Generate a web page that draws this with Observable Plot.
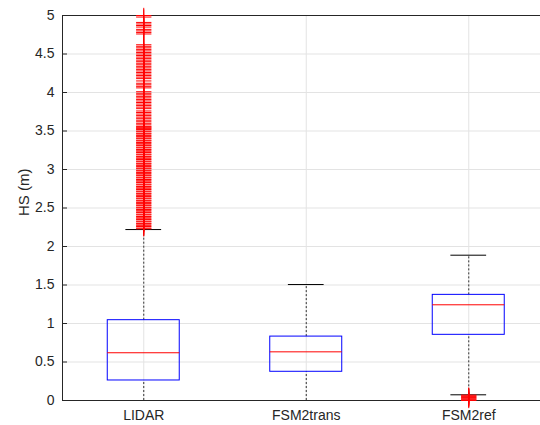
<!DOCTYPE html>
<html><head><meta charset="utf-8">
<script src="https://cdn.jsdelivr.net/npm/d3@7"></script>
<script src="https://cdn.jsdelivr.net/npm/@observablehq/plot@0.6"></script>
<style>html,body{margin:0;padding:0;background:#fff;overflow:hidden}</style>
</head><body><div id="chart"></div>
<script>
const categories = ["LIDAR", "FSM2trans", "FSM2ref"];
const q1 = [0.26, 0.373, 0.853];
const medians = [0.62, 0.632, 1.243];
const q3 = [1.043, 0.83, 1.372];
const whiskerLow = [0, 0, 0.074];
const whiskerHigh = [2.22, 1.506, 1.887];
const yTicks = [0, 0.5, 1, 1.5, 2, 2.5, 3, 3.5, 4, 4.5, 5];
const yLabel = "HS (m)";
const outliersLIDAR = [
  5.0, 4.98, 4.91, 4.89, 4.87, 4.85, 4.82, 4.80, 4.78, 4.76,
  4.62, 4.60, 4.58, 4.56, 4.54, 4.52, 4.50, 4.48, 4.46, 4.44, 4.42, 4.40, 4.38, 4.36, 4.34, 4.32,
  4.30, 4.28, 4.26, 4.24, 4.22, 4.20, 4.18, 4.15, 4.12, 4.10, 4.08, 4.06,
  4.01, 3.99, 3.97, 3.95, 3.93, 3.91, 3.89, 3.87, 3.85, 3.83, 3.81, 3.79,
  3.76, 3.74, 3.72, 3.70, 3.68, 3.66, 3.64, 3.62, 3.60, 3.58, 3.56, 3.54,
  3.55, 3.53, 3.52, 3.50, 3.49, 3.47, 3.46, 3.44, 3.43, 3.41, 3.40, 3.38, 3.37, 3.35, 3.34, 3.32,
  3.31, 3.29, 3.28, 3.26, 3.25, 3.23, 3.22, 3.20, 3.19, 3.17, 3.16, 3.14, 3.13, 3.11, 3.10, 3.08,
  3.07, 3.05, 3.04, 3.02, 3.01, 2.99, 2.98, 2.96, 2.95, 2.93, 2.92, 2.90, 2.89, 2.87, 2.86, 2.84,
  2.83, 2.81, 2.80, 2.78, 2.77, 2.75, 2.74, 2.72, 2.71, 2.69, 2.68, 2.66, 2.65, 2.63, 2.62, 2.60,
  2.59, 2.57, 2.56, 2.54, 2.53, 2.51, 2.50, 2.48, 2.47, 2.45, 2.44, 2.42, 2.41, 2.39, 2.38, 2.36,
  2.35, 2.33, 2.32, 2.30, 2.29, 2.27, 2.26, 2.24, 2.23
];
const outliersFSM2ref = [0.0, 0.01, 0.02, 0.03, 0.04, 0.05, 0.06, 0.07];

const boxes = categories.map((name, i) => ({
  name, pos: i + 1, q1: q1[i], med: medians[i], q3: q3[i], lo: whiskerLow[i], hi: whiskerHigh[i]
}));
const outliers = [
  ...outliersLIDAR.map(v => ({pos: 1, v})),
  ...outliersFSM2ref.map(v => ({pos: 3, v}))
];
const positions = categories.map((d, i) => i + 1);
const halfBox = 0.2215, halfCap = 0.11;
const ink = "#262626";

const chart = Plot.plot({
  width: 540, height: 425,
  marginLeft: 62, marginTop: 15, marginBottom: 25, marginRight: 0,
  x: {type: "linear", domain: [0.5, 3.5], range: [62, 549.5]},
  y: {domain: [0, 5], range: [400, 15]},
  style: {fontFamily: "'Liberation Sans', Arial, sans-serif", fontSize: "14px", color: ink, background: "white"},
  marks: [
    Plot.gridY(yTicks, {stroke: "#e3e3e3", strokeOpacity: 1}),
    Plot.gridX(positions, {stroke: "#e3e3e3", strokeOpacity: 1}),
    Plot.axisY(yTicks, {tickSize: 5, dx: 5, tickFormat: () => "", stroke: ink, label: null}),
    Plot.axisY(yTicks, {tickSize: 0, tickPadding: 8, tickFormat: d => String(d), fill: ink, fontSize: 14, label: null}),
    Plot.axisX(positions, {tickSize: 0, tickPadding: 10, tickFormat: d => categories[d - 1], fill: ink, fontSize: 14, label: null}),
    Plot.text([yLabel], {frameAnchor: "left", rotate: -90, dx: -38, dy: 8, fontSize: 15, fill: ink}),
    // whiskers
    Plot.ruleX(boxes, {x: "pos", y1: "q3", y2: "hi", stroke: "#333", strokeDasharray: "2,2"}),
    Plot.ruleX(boxes, {x: "pos", y1: "lo", y2: "q1", stroke: "#333", strokeDasharray: "2,2"}),
    // caps
    Plot.ruleY(boxes, {y: "hi", x1: d => d.pos - halfCap, x2: d => d.pos + halfCap, stroke: "#000"}),
    Plot.ruleY(boxes, {y: "lo", x1: d => d.pos - halfCap, x2: d => d.pos + halfCap, stroke: "#000"}),
    // boxes
    Plot.rect(boxes, {x1: d => d.pos - halfBox, x2: d => d.pos + halfBox, y1: "q1", y2: "q3", fill: "none", stroke: "#0000ff"}),
    Plot.ruleY(boxes, {y: "med", x1: d => d.pos - halfBox, x2: d => d.pos + halfBox, stroke: "#ff0000"}),
    // frame
    Plot.ruleX([0.5], {stroke: ink}),
    Plot.ruleY([0, 5], {stroke: ink}),
    // outliers
    Plot.dot(outliers, {x: "pos", y: "v", symbol: "plus", r: 5, stroke: "#ff0000", strokeWidth: 1})
  ]
});
document.getElementById("chart").appendChild(chart);
</script>
</body></html>
